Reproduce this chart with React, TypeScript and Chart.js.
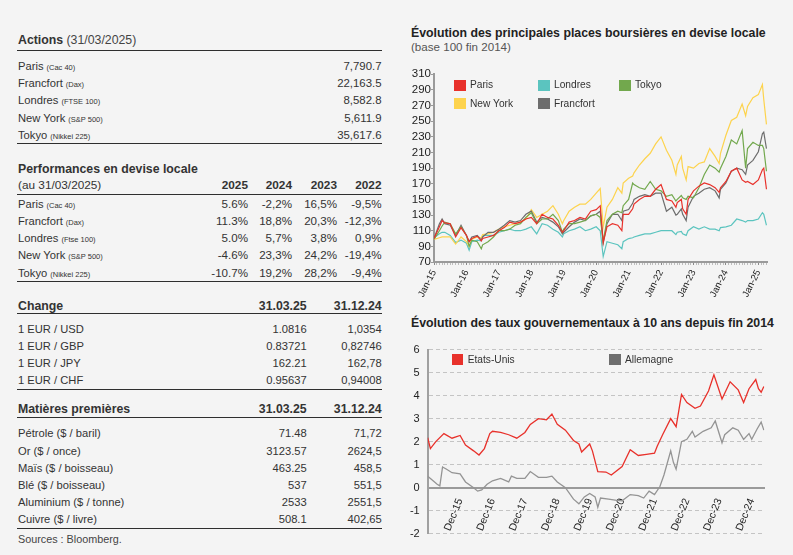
import React, { useEffect, useRef } from 'react';
import { Chart, registerables } from 'chart.js';

Chart.register(...registerables);

const FONT = '"Liberation Sans", Arial, Helvetica, sans-serif';

// ---------- Tables ----------
const actionsNames = ['Paris', 'Francfort', 'Londres', 'New York', 'Tokyo'];
const actionsIndices = ['(Cac 40)', '(Dax)', '(FTSE 100)', '(S&P 500)', '(Nikkei 225)'];
const actionsValues = ['7,790.7', '22,163.5', '8,582.8', '5,611.9', '35,617.6'];

const perfYears = ['2025', '2024', '2023', '2022'];
const perfIndices = ['(Cac 40)', '(Dax)', '(Ftse 100)', '(S&P 500)', '(Nikkei 225)'];
const perf2025 = ['5.6%', '11.3%', '5.0%', '-4.6%', '-10.7%'];
const perf2024 = ['-2,2%', '18,8%', '5,7%', '23,3%', '19,2%'];
const perf2023 = ['16,5%', '20,3%', '3,8%', '24,2%', '28,2%'];
const perf2022 = ['-9,5%', '-12,3%', '0,9%', '-19,4%', '-9,4%'];

const fxDates = ['31.03.25', '31.12.24'];
const fxPairs = ['1 EUR / USD', '1 EUR / GBP', '1 EUR / JPY', '1 EUR / CHF'];
const fxMar25 = ['1.0816', '0.83721', '162.21', '0.95637'];
const fxDec24 = ['1,0354', '0,82746', '162,78', '0,94008'];

const commodityNames = ['Pétrole ($ / baril)', 'Or ($ / once)', 'Maïs ($ / boisseau)', 'Blé ($ / boisseau)', 'Aluminium ($ / tonne)', 'Cuivre ($ / livre)'];
const commodityMar25 = ['71.48', '3123.57', '463.25', '537', '2533', '508.1'];
const commodityDec24 = ['71,72', '2624,5', '458,5', '551,5', '2551,5', '402,65'];

// ---------- Chart 1: stock indices (base 100 end 2014), x = months since Jan-15 ----------
const stockYearLabels = ['Jan-15', 'Jan-16', 'Jan-17', 'Jan-18', 'Jan-19', 'Jan-20', 'Jan-21', 'Jan-22', 'Jan-23', 'Jan-24', 'Jan-25'];
const stockMonths = [0, 2, 3, 4, 6, 8, 10, 12, 13, 14, 16, 17.5, 18, 20, 22, 24, 26, 28, 30, 32, 34, 36, 38, 40, 42, 44, 46, 47.5, 48, 50, 52, 54, 56, 58, 60, 61.5, 62.6, 64, 66, 68, 69.5, 70, 72, 73.5, 74, 76, 78, 80, 82, 84, 86, 88, 89.5, 90, 91.5, 92, 93.3, 94, 96, 98, 100, 102, 104, 105.5, 106, 108, 110, 112, 114, 115.3, 116, 118, 120, 121.5, 122, 123];
const parisSeries = [100, 115, 123, 120, 119, 102, 114, 104, 96, 100, 103, 97, 100, 102, 104, 110, 114, 121, 119, 121, 125, 127, 119, 131, 127, 125, 117, 108, 110, 121, 123, 127, 125, 135, 137, 142, 95, 115, 119, 117, 110, 131, 131, 138, 144, 150, 154, 154, 163, 169, 150, 148, 140, 146, 150, 138, 131, 150, 161, 167, 171, 169, 165, 159, 165, 173, 186, 190, 175, 172, 173, 169, 175, 188, 190, 163];
const newYorkSeries = [99, 101, 102, 102, 102, 93, 102, 96, 90, 99, 102, 101, 105, 106, 108, 112, 115, 117, 119, 121, 125, 137, 127, 131, 135, 142, 131, 119, 123, 135, 140, 144, 144, 150, 158, 164, 115, 140, 150, 165, 158, 171, 177, 180, 184, 194, 202, 209, 221, 230, 213, 200, 182, 194, 205, 190, 175, 192, 190, 196, 198, 215, 205, 196, 209, 232, 251, 255, 272, 257, 269, 280, 284, 297, 278, 246];
const frankfurtSeries = [100, 119, 125, 119, 117, 104, 117, 104, 96, 102, 104, 98, 102, 108, 108, 112, 117, 123, 121, 123, 131, 135, 121, 127, 125, 121, 115, 106, 108, 115, 121, 125, 123, 129, 131, 135, 94, 119, 131, 131, 123, 135, 137, 145, 150, 154, 156, 154, 158, 158, 135, 140, 130, 131, 138, 131, 123, 140, 154, 158, 163, 165, 161, 152, 163, 171, 186, 190, 188, 182, 194, 200, 211, 234, 236, 215];
const tokyoSeries = [99, 110, 116, 121, 119, 106, 115, 104, 90, 98, 96, 87, 92, 96, 102, 110, 110, 112, 117, 119, 127, 133, 119, 125, 125, 131, 123, 108, 112, 119, 119, 121, 123, 129, 131, 127, 97, 123, 131, 135, 133, 142, 150, 171, 169, 165, 163, 173, 163, 161, 154, 156, 148, 150, 155, 152, 150, 154, 152, 165, 182, 194, 190, 185, 190, 205, 226, 221, 238, 190, 215, 223, 219, 219, 215, 186];
const londonSeries = [101, 106, 108, 108, 104, 95, 98, 94, 85, 96, 98, 97, 104, 104, 104, 108, 110, 112, 110, 110, 112, 115, 106, 119, 117, 112, 108, 102, 106, 110, 112, 115, 110, 112, 115, 110, 77, 96, 94, 92, 87, 96, 100, 101, 102, 104, 106, 106, 108, 110, 110, 110, 105, 108, 109, 106, 104, 110, 115, 112, 115, 112, 112, 110, 114, 115, 117, 125, 123, 121, 123, 123, 125, 133, 131, 117];

// ---------- Chart 2: 10-year government yields, x = months since end 2014 ----------
const rateTickLabels = ['Dec-15', 'Dec-16', 'Dec-17', 'Dec-18', 'Dec-19', 'Dec-20', 'Dec-21', 'Dec-22', 'Dec-23', 'Dec-24'];
const usMonths = [0, 1, 3, 6, 9, 12, 14, 17, 19, 21, 23, 24, 27, 30, 33, 36, 38, 41, 44, 46, 48, 51, 54, 56, 57, 60, 61, 63, 66, 68, 72, 75, 78, 81, 84, 85, 87, 90, 92, 94, 96, 99, 101, 104, 106, 109, 110, 112, 115, 117, 119, 121.5, 122.5, 123.5, 124.5];
const usYields = [2.17, 1.7, 2.0, 2.35, 2.15, 2.27, 1.85, 1.6, 1.42, 1.7, 2.35, 2.45, 2.4, 2.3, 2.15, 2.4, 2.75, 3.0, 2.95, 3.2, 2.75, 2.5, 2.05, 1.9, 1.55, 1.9, 1.6, 0.7, 0.68, 0.55, 0.92, 1.65, 1.4, 1.45, 1.5, 1.8, 2.3, 3.0, 2.65, 4.05, 3.7, 3.45, 3.55, 4.2, 4.9, 3.85, 4.1, 4.6, 4.25, 3.7, 4.3, 4.7, 4.3, 4.15, 4.4];
const deMonths = [0, 1, 2, 3.5, 4.5, 5.5, 7, 9, 12, 14, 17, 18.5, 20, 22, 24, 27, 30, 31, 33, 36, 38, 41, 44, 46, 48, 51, 54, 56, 58, 60, 62, 63, 64, 67, 70, 72, 75, 78, 80, 82, 84, 86, 87.5, 90, 91, 92, 94, 96, 98, 99, 102, 105, 106.5, 109, 110, 113, 115, 117, 119, 120, 122, 123.5, 124.5];
const deYields = [0.5, 0.4, 0.3, 0.15, 0.08, 0.9, 0.8, 0.65, 0.6, 0.25, 0.0, -0.15, -0.1, 0.15, 0.3, 0.4, 0.25, 0.5, 0.4, 0.4, 0.7, 0.45, 0.45, 0.5, 0.25, 0.0, -0.5, -0.7, -0.4, -0.25, -0.4, -0.85, -0.45, -0.5, -0.55, -0.57, -0.3, -0.35, -0.45, -0.15, -0.3, 0.05, 0.55, 1.6, 1.1, 0.8, 2.0, 2.1, 2.45, 2.2, 2.45, 2.6, 2.9, 1.95, 2.3, 2.6, 2.5, 2.1, 2.35, 2.1, 2.55, 2.85, 2.5];

const COLORS = {
  paris: '#e8312b',
  london: '#5bc4bf',
  tokyo: '#72a84d',
  newYork: '#fdd34d',
  frankfurt: '#6d6d6d',
  us: '#e8312b',
  de: '#949494',
  deLegend: '#6e6e6e',
};

const TEXT = '#333';

const pts = (xs: number[], ys: number[]) => xs.map((x, i) => ({ x, y: ys[i] }));

function StockChart() {
  const ref = useRef<HTMLCanvasElement | null>(null);
  useEffect(() => {
    if (!ref.current) return;
    const mk = (label: string, data: number[], color: string) => ({
      label,
      data: pts(stockMonths, data),
      borderColor: color,
      backgroundColor: color,
      borderWidth: 1.2,
      pointRadius: 0,
      tension: 0,
      fill: false,
    });
    const chart = new Chart(ref.current, {
      type: 'line',
      data: {
        datasets: [
          mk('Paris', parisSeries, COLORS.paris),
          mk('Tokyo', tokyoSeries, COLORS.tokyo),
          mk('Francfort', frankfurtSeries, COLORS.frankfurt),
          mk('New York', newYorkSeries, COLORS.newYork),
          mk('Londres', londonSeries, COLORS.london),
        ],
      },
      options: {
        animation: false,
        responsive: false,
        maintainAspectRatio: false,
        layout: { padding: { top: 14.3, right: 13, left: 0, bottom: 0 } },
        plugins: { legend: { display: false }, tooltip: { enabled: false } },
        scales: {
          x: {
            type: 'linear',
            min: 0,
            max: 123.2,
            afterFit: (s: any) => { s.height = 48; },
            afterBuildTicks: (axis: any) => {
              const t = [];
              for (let m = 0; m <= 123; m++) t.push({ value: m });
              axis.ticks = t;
            },
            grid: {
              drawOnChartArea: false,
              tickLength: 3,
              tickColor: (ctx: any) => (ctx.tick && ctx.tick.value % 12 === 0 ? '#8a8a8a' : '#bdbdbd'),
            },
            border: { color: '#9a9a9a', width: 2 },
            ticks: {
              autoSkip: false,
              minRotation: 63,
              maxRotation: 63,
              padding: 3,
              color: '#222',
              font: { family: FONT, size: 9.5 },
              callback: (v: any) => (Number(v) % 12 === 0 ? stockYearLabels[Number(v) / 12] : ''),
            },
          },
          y: {
            min: 70,
            max: 310,
            afterFit: (s: any) => { s.width = 34; },
            grid: { drawOnChartArea: false, tickLength: 3, color: '#9a9a9a' },
            border: { color: '#9a9a9a', width: 2 },
            ticks: { stepSize: 20, autoSkip: false, padding: 0, color: '#222', font: { family: FONT, size: 11.5 } },
          },
        },
      } as any,
    });
    return () => chart.destroy();
  }, []);
  return <canvas ref={ref} width={380} height={250} style={{ position: 'absolute', left: 400, top: 60, width: 380, height: 250 }} />;
}

function RatesChart() {
  const ref = useRef<HTMLCanvasElement | null>(null);
  useEffect(() => {
    if (!ref.current) return;
    const chart = new Chart(ref.current, {
      type: 'line',
      data: {
        datasets: [
          { label: 'Etats-Unis', data: pts(usMonths, usYields), borderColor: COLORS.us, backgroundColor: COLORS.us, borderWidth: 1.3, pointRadius: 0, tension: 0, fill: false },
          { label: 'Allemagne', data: pts(deMonths, deYields), borderColor: COLORS.de, backgroundColor: COLORS.de, borderWidth: 1.3, pointRadius: 0, tension: 0, fill: false },
        ],
      },
      options: {
        animation: false,
        responsive: false,
        maintainAspectRatio: false,
        layout: { padding: { top: 10.7, right: 15.6, bottom: 16.3, left: 0 } },
        plugins: { legend: { display: false }, tooltip: { enabled: false } },
        scales: {
          x: {
            type: 'linear',
            position: { y: 0 },
            min: 0,
            max: 124.7,
            afterBuildTicks: (axis: any) => {
              axis.ticks = rateTickLabels.map((_, i) => ({ value: (i + 1) * 12 }));
            },
            grid: { drawOnChartArea: false, drawTicks: false },
            border: { color: '#9a9a9a', width: 2 },
            ticks: {
              autoSkip: false,
              minRotation: 68,
              maxRotation: 68,
              padding: 9,
              color: '#222',
              font: { family: FONT, size: 10.5 },
              callback: (v: any) => rateTickLabels[Number(v) / 12 - 1] ?? '',
            },
          },
          y: {
            min: -2,
            max: 6,
            afterFit: (s: any) => { s.width = 27.7; },
            grid: { color: '#c4c4c4', lineWidth: 1, drawTicks: false },
            border: { color: '#a0a0a0', width: 2, dash: [4, 3] },
            ticks: { stepSize: 1, autoSkip: false, padding: 8, color: '#222', font: { family: FONT, size: 11 } },
          },
        },
      } as any,
    });
    return () => chart.destroy();
  }, []);
  return <canvas ref={ref} width={380} height={215} style={{ position: 'absolute', left: 400, top: 335, width: 380, height: 215 }} />;
}

// ---------- layout helpers ----------
const LEFT = 18;
const RIGHT = 382;

function Txt(props: { x: number; cy: number; right?: boolean; size?: number; bold?: boolean; color?: string; children: React.ReactNode }) {
  const { x, cy, right, size = 11.2, bold, color = TEXT, children } = props;
  const style: React.CSSProperties = {
    position: 'absolute',
    top: cy - 8,
    height: 16,
    lineHeight: '16px',
    whiteSpace: 'nowrap',
    fontSize: size,
    fontWeight: bold ? 700 : 400,
    color,
  };
  if (right) style.right = 793 - x;
  else style.left = x;
  return <div style={style}>{children}</div>;
}

function HLine({ y }: { y: number }) {
  return <div style={{ position: 'absolute', left: LEFT - 1, width: RIGHT - LEFT + 1, top: y, height: 1, background: '#2e2e2e' }} />;
}

const Small = ({ children }: { children: React.ReactNode }) => (
  <span style={{ fontSize: 7.5, marginLeft: 3 }}>{children}</span>
);

function LegendItem({ x, y, color, label }: { x: number; y: number; color: string; label: string }) {
  return (
    <>
      <div style={{ position: 'absolute', left: x, top: y, width: 11.5, height: 11, background: color }} />
      <Txt x={x + 16} cy={y + 5.5} size={10.2}>{label}</Txt>
    </>
  );
}

export default function App() {
  const perfCols = [perf2025, perf2024, perf2023, perf2022];
  const perfRights = [248, 292, 337, 381.5];
  return (
    <div style={{ position: 'absolute', left: 0, top: 0, width: 793, height: 555, background: '#f4f4f4', overflow: 'hidden', fontFamily: FONT, color: TEXT }}>
      {/* Actions */}
      <Txt x={LEFT} cy={40} size={12.3}>
        <b>Actions</b> <span style={{ color: '#444' }}>(31/03/2025)</span>
      </Txt>
      <HLine y={50} />
      {actionsNames.map((n, i) => (
        <React.Fragment key={n}>
          <Txt x={LEFT} cy={65.7 + i * 17.3}>{n}<Small>{actionsIndices[i]}</Small></Txt>
          <Txt x={381.5} cy={65.7 + i * 17.3} right size={11.4}>{actionsValues[i]}</Txt>
        </React.Fragment>
      ))}
      <HLine y={143} />

      {/* Performances */}
      <Txt x={LEFT} cy={168.7} size={12.3} bold>Performances en devise locale</Txt>
      <Txt x={LEFT} cy={184.7} size={11.8}>(au 31/03/2025)</Txt>
      {perfYears.map((y, j) => (
        <Txt key={y} x={perfRights[j]} cy={184.7} right size={11.8} bold>{y}</Txt>
      ))}
      <HLine y={193.5} />
      {actionsNames.map((n, i) => (
        <React.Fragment key={'p' + n}>
          <Txt x={LEFT} cy={203.7 + i * 17.25}>{n}<Small>{perfIndices[i]}</Small></Txt>
          {perfCols.map((col, j) => (
            <Txt key={j} x={perfRights[j]} cy={203.7 + i * 17.25} right size={11.6}>{col[i]}</Txt>
          ))}
        </React.Fragment>
      ))}
      <HLine y={281} />

      {/* Change */}
      <Txt x={LEFT} cy={305.7} size={12.3} bold>Change</Txt>
      <Txt x={306.7} cy={305.7} right size={12.3} bold>{fxDates[0]}</Txt>
      <Txt x={381.7} cy={305.7} right size={12.3} bold>{fxDates[1]}</Txt>
      <HLine y={313} />
      {fxPairs.map((p, i) => (
        <React.Fragment key={p}>
          <Txt x={LEFT} cy={329 + i * 17.1}>{p}</Txt>
          <Txt x={306.7} cy={329 + i * 17.1} right>{fxMar25[i]}</Txt>
          <Txt x={381.7} cy={329 + i * 17.1} right>{fxDec24[i]}</Txt>
        </React.Fragment>
      ))}
      <HLine y={389} />

      {/* Matières premières */}
      <Txt x={LEFT} cy={409.3} size={12.3} bold>Matières premières</Txt>
      <Txt x={306.7} cy={409.3} right size={12.3} bold>{fxDates[0]}</Txt>
      <Txt x={381.7} cy={409.3} right size={12.3} bold>{fxDates[1]}</Txt>
      <HLine y={417} />
      {commodityNames.map((c, i) => (
        <React.Fragment key={c}>
          <Txt x={LEFT} cy={433.3 + i * 17.2}>{c}</Txt>
          <Txt x={306.7} cy={433.3 + i * 17.2} right>{commodityMar25[i]}</Txt>
          <Txt x={381.7} cy={433.3 + i * 17.2} right>{commodityDec24[i]}</Txt>
        </React.Fragment>
      ))}
      <HLine y={528} />
      <Txt x={LEFT} cy={539.3} size={10.8} color="#444">Sources : Bloomberg.</Txt>

      {/* Chart 1 */}
      <Txt x={411} cy={33.3} size={12.3} bold color="#222">Évolution des principales places boursières en devise locale</Txt>
      <Txt x={411} cy={46.7} size={11.6} color="#555">(base 100 fin 2014)</Txt>
      <StockChart />
      <LegendItem x={454} y={79.5} color={COLORS.paris} label="Paris" />
      <LegendItem x={538} y={79.5} color={COLORS.london} label="Londres" />
      <LegendItem x={619} y={79.5} color={COLORS.tokyo} label="Tokyo" />
      <LegendItem x={454} y={98} color={COLORS.newYork} label="New York" />
      <LegendItem x={538} y={98} color={COLORS.frankfurt} label="Francfort" />

      {/* Chart 2 */}
      <Txt x={411} cy={323.3} size={12.3} bold color="#222">Évolution des taux gouvernementaux à 10 ans depuis fin 2014</Txt>
      <RatesChart />
      <LegendItem x={451.7} y={354} color={COLORS.us} label="Etats-Unis" />
      <LegendItem x={609} y={354} color={COLORS.deLegend} label="Allemagne" />
    </div>
  );
}
